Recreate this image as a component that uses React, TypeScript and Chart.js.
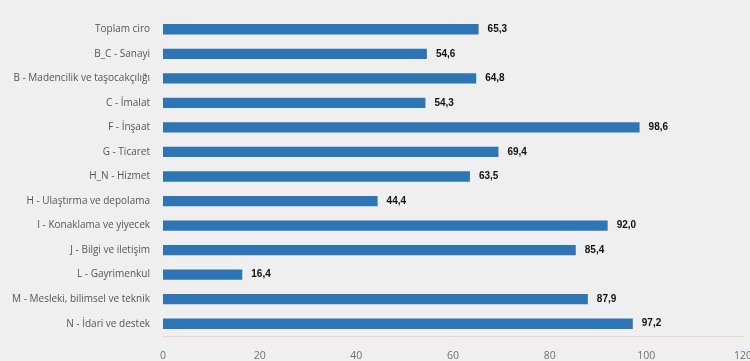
import React, { useEffect, useRef } from "react";
import { Chart, registerables } from "chart.js";

Chart.register(...registerables);

const categories = [
  "Toplam ciro",
  "B_C - Sanayi",
  "B - Madencilik ve taşocakçılığı",
  "C - İmalat",
  "F - İnşaat",
  "G - Ticaret",
  "H_N - Hizmet",
  "H - Ulaştırma ve depolama",
  "I - Konaklama ve yiyecek",
  "J - Bilgi ve iletişim",
  "L - Gayrimenkul",
  "M - Mesleki, bilimsel ve teknik",
  "N - İdari ve destek",
];

const values = [65.3, 54.6, 64.8, 54.3, 98.6, 69.4, 63.5, 44.4, 92.0, 85.4, 16.4, 87.9, 97.2];

const xTicks = [0, 20, 40, 60, 80, 100, 120];

const valueLabels = {
  id: "valueLabels",
  afterDatasetsDraw(chart: any) {
    const ctx = chart.ctx;
    const meta = chart.getDatasetMeta(0);
    ctx.save();
    ctx.font = "bold 10px 'Liberation Sans', Arial, sans-serif";
    ctx.fillStyle = "#111111";
    ctx.textAlign = "left";
    ctx.textBaseline = "middle";
    meta.data.forEach((bar: any, i: number) => {
      const txt = values[i].toFixed(1).replace(".", ",");
      ctx.fillText(txt, bar.x + 9, bar.y);
    });
    ctx.restore();
  },
};

export default function App() {
  const ref = useRef<HTMLCanvasElement>(null);
  useEffect(() => {
    document.body.style.margin = "0";
    document.body.style.background = "#efefef";
    const chart = new Chart(ref.current!, {
      type: "bar",
      data: {
        labels: categories,
        datasets: [
          {
            data: values,
            backgroundColor: "#2e75b6",
            barPercentage: 0.42,
            categoryPercentage: 1,
          },
        ],
      },
      options: {
        indexAxis: "y",
        animation: false,
        responsive: false,
        maintainAspectRatio: false,
        layout: { padding: { top: 17, right: 0, left: 0, bottom: 0 } },
        plugins: { legend: { display: false }, tooltip: { enabled: false } },
        scales: {
          x: {
            min: 0,
            max: 120,
            afterBuildTicks: (scale: any) => {
              scale.ticks = xTicks.map((v) => ({ value: v }));
            },
            grid: { display: false },
            border: { display: true, color: "#e2d9cd", width: 1 },
            ticks: {
              color: "#707070",
              font: { family: "'Open Sans', sans-serif", size: 10.5 },
              padding: 6,
            },
            afterFit: (scale: any) => {
              scale.height = 25;
              scale.paddingRight = 7;
              scale.paddingLeft = 0;
            },
          },
          y: {
            grid: { display: false },
            border: { display: false },
            ticks: {
              color: "#555555",
              font: { family: "'Open Sans', sans-serif", size: 10 },
              padding: 5,
            },
            afterFit: (scale: any) => {
              scale.width = 163;
            },
          },
        },
      },
      plugins: [valueLabels],
    });
    return () => chart.destroy();
  }, []);
  return (
    <div style={{ width: 750, height: 361, background: "#efefef" }}>
      <canvas ref={ref} width={750} height={361} />
    </div>
  );
}
